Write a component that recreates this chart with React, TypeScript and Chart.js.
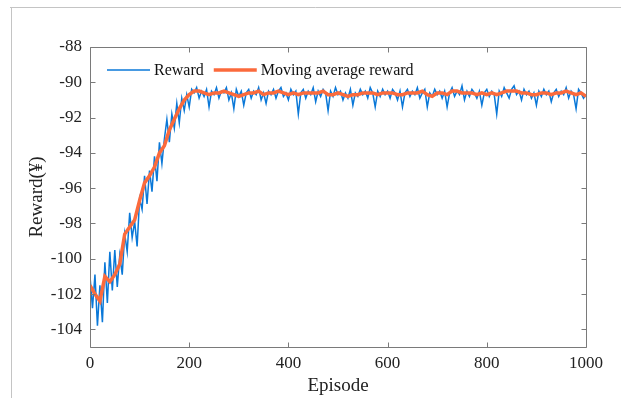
import React, { useEffect, useRef } from "react";
import { Chart, registerables } from "chart.js";

Chart.register(...registerables);

// Episode spacing of each series (x positions of the samples)
const REWARD_STEP = 5;
const AVG_STEP = 10;

// Reward per episode, sampled every 5 episodes (0 ... 1000)
const rewardValues = [
  -101.0, -102.8, -100.9, -103.8, -101.5, -103.6, -100.2, -102.5, -99.6, -101.8,
  -99.5, -101.6, -99.8, -100.9, -98.6, -99.6, -97.4, -98.8, -97.9, -99.3,
  -96.6,
  -97.2, -95.3, -96.9, -95.0, -96.2, -94.2, -95.6, -93.4, -94.6, -93.2,
  -92.1, -93.4, -91.8, -92.6, -91.2, -92.3, -90.9, -91.6, -90.7, -91.4,
  -90.4, -90.6, -90.3, -90.9,
  -90.5, -90.8, -90.4, -91.4, -90.5, -90.7, -90.3, -90.9, -90.5, -90.6,
  -90.3, -91.0, -90.6, -91.5, -90.4, -90.8, -90.5, -91.3, -90.6, -90.4,
  -90.9, -90.5, -90.7, -90.3, -91.0, -90.6, -91.2, -90.5, -90.7, -90.4,
  -90.9, -90.5, -90.3, -90.8, -90.6, -91.0, -90.4, -90.7, -90.5, -91.8,
  -90.6, -90.4, -90.9, -90.5, -90.7, -90.3, -91.1, -90.5, -90.8, -90.4,
  -90.6, -91.6, -90.5, -90.8, -90.3, -90.7, -90.5, -91.0, -90.6, -90.9,
  -90.4, -91.3, -90.6, -90.8, -90.4, -90.7, -90.5, -90.9, -90.3, -90.6,
  -91.4, -90.5, -90.8, -90.4, -90.7, -90.5, -90.9, -90.4, -90.6, -91.0,
  -90.5, -91.4, -90.6, -90.4, -90.8, -90.5, -90.7, -90.3, -90.9, -90.6,
  -90.4, -91.4, -90.6, -90.8, -90.4, -90.7, -90.5, -90.9, -90.5, -91.4,
  -90.6, -90.3, -90.8, -90.5, -90.7, -90.2, -91.0, -90.5, -90.8, -90.4,
  -90.6, -90.9, -90.5, -91.3, -90.6, -90.4, -90.8, -90.5, -90.7, -91.8,
  -90.5, -90.8, -90.3, -90.6, -90.9, -90.4, -90.2, -90.7, -90.5, -91.0,
  -90.4, -90.7, -90.5, -90.9, -90.6, -91.3, -90.5, -90.8, -90.4, -90.7,
  -90.5, -91.1, -90.6, -90.4, -90.8, -90.5, -90.7, -90.3, -90.9, -90.5,
  -90.7, -91.5, -90.4, -90.6, -90.9, -90.7,
];

// Moving average reward, sampled every 10 episodes (0 ... 1000)
const movingAverageValues = [
  -101.5, -102.0, -102.4, -101.0, -101.3, -100.9, -100.3, -98.6, -98.2, -97.8,
  -96.7, -95.7, -95.3, -94.8, -94.0, -93.6, -92.7, -92.1, -91.5, -91.0,
  -90.7,
  -90.5, -90.5, -90.6, -90.7, -90.6, -90.6, -90.5, -90.6, -90.7, -90.8,
  -90.7, -90.6, -90.6, -90.5, -90.7, -90.6, -90.6, -90.5, -90.6, -90.7,
  -90.6, -90.7, -90.6, -90.6, -90.6, -90.6, -90.5, -90.7, -90.7, -90.6,
  -90.7, -90.8, -90.7, -90.7, -90.6, -90.6, -90.6, -90.7, -90.6, -90.6,
  -90.6, -90.7, -90.7, -90.6, -90.6, -90.6, -90.5, -90.7, -90.8, -90.6,
  -90.6, -90.7, -90.5, -90.5, -90.6, -90.6, -90.6, -90.7, -90.6, -90.7,
  -90.6, -90.7, -90.6, -90.5, -90.5, -90.5, -90.6, -90.6, -90.7, -90.7,
  -90.6, -90.6, -90.7, -90.6, -90.6, -90.5, -90.6, -90.7, -90.6, -90.8,
];

const xTickValues = [0, 200, 400, 600, 800, 1000];
const yTickValues = [-104, -102, -100, -98, -96, -94, -92, -90, -88];
const seriesNames = ["Reward", "Moving average reward"];
const xTitle = "Episode";
const yTitle = "Reward(¥)";

const BLUE = "#0a78d8";
const ORANGE = "#fb6a3c";
const FONT = "'Liberation Serif', 'Times New Roman', serif";

export default function App() {
  const ref = useRef<HTMLCanvasElement>(null);

  useEffect(() => {
    if (!ref.current) return;

    const framePlugin = {
      id: "matlabFrame",
      beforeDraw(chart: any) {
        const ctx = chart.ctx;
        ctx.save();
        ctx.fillStyle = "#ffffff";
        ctx.fillRect(0, 0, chart.width, chart.height);
        ctx.strokeStyle = "#c4c4c4";
        ctx.lineWidth = 1;
        ctx.beginPath();
        ctx.moveTo(10, 7.5);
        ctx.lineTo(chart.width, 7.5);
        ctx.moveTo(11.5, 7);
        ctx.lineTo(11.5, chart.height);
        ctx.stroke();
        ctx.restore();
      },
      afterDraw(chart: any) {
        const { ctx, chartArea } = chart;
        const { left, right, top, bottom } = chartArea;
        const xs = chart.scales.x;
        const ys = chart.scales.y;
        ctx.save();
        ctx.strokeStyle = "#7a7a7a";
        ctx.lineWidth = 1;
        const L = Math.round(left) + 0.5;
        const R = Math.round(right) + 0.5;
        const T = Math.round(top) + 0.5;
        const B = Math.round(bottom) + 0.5;
        ctx.beginPath();
        ctx.rect(L, T, R - L, B - T);
        const t = 5;
        for (const v of xTickValues) {
          const px = Math.round(xs.getPixelForValue(v)) + 0.5;
          ctx.moveTo(px, B);
          ctx.lineTo(px, B - t);
          ctx.moveTo(px, T);
          ctx.lineTo(px, T + t);
        }
        for (const v of yTickValues) {
          const py = Math.round(ys.getPixelForValue(v)) + 0.5;
          ctx.moveTo(L, py);
          ctx.lineTo(L + t, py);
          ctx.moveTo(R, py);
          ctx.lineTo(R - t, py);
        }
        ctx.stroke();

        // legend inside the plot area
        const ly = top + 23;
        ctx.font = `16px ${FONT}`;
        ctx.textBaseline = "middle";
        ctx.fillStyle = "#111";
        let x0 = left + 17;
        const colors = [BLUE, ORANGE];
        const widths = [1.5, 3.5];
        seriesNames.forEach((name, i) => {
          ctx.strokeStyle = colors[i];
          ctx.lineWidth = widths[i];
          ctx.beginPath();
          ctx.moveTo(x0, ly);
          ctx.lineTo(x0 + 43, ly);
          ctx.stroke();
          ctx.fillText(name, x0 + 47, ly + 1);
          x0 += 47 + ctx.measureText(name).width + 10;
        });
        ctx.restore();
      },
    };

    const chart = new Chart(ref.current, {
      type: "line",
      data: {
        datasets: [
          {
            label: seriesNames[0],
            data: rewardValues.map((v, i) => ({ x: i * REWARD_STEP, y: v })),
            borderColor: BLUE,
            backgroundColor: BLUE,
            borderWidth: 1.5,
            pointRadius: 0,
            tension: 0,
            order: 1,
          },
          {
            label: seriesNames[1],
            data: movingAverageValues.map((v, i) => ({ x: i * AVG_STEP, y: v })),
            borderColor: ORANGE,
            backgroundColor: ORANGE,
            borderWidth: 3.5,
            pointRadius: 0,
            tension: 0,
            order: 0,
          },
        ],
      },
      options: {
        responsive: false,
        animation: false,
        layout: { padding: { left: 0, top: 47, right: 35, bottom: 0 } },
        plugins: {
          legend: { display: false },
          tooltip: { enabled: false },
        },
        scales: {
          x: {
            type: "linear",
            min: 0,
            max: 1000,
            afterBuildTicks: (s: any) => {
              s.ticks = xTickValues.map((v) => ({ value: v }));
            },
            afterFit: (s: any) => {
              s.height = 51;
            },
            grid: { display: false, drawTicks: false },
            border: { display: false },
            ticks: {
              padding: 6,
              color: "#222",
              maxRotation: 0,
              font: { family: FONT, size: 17 },
              callback: (v: any) => String(v),
            },
            title: {
              display: true,
              text: xTitle,
              color: "#222",
              font: { family: FONT, size: 19 },
              padding: { top: 0, bottom: 1 },
            },
          },
          y: {
            type: "linear",
            min: -105,
            max: -88,
            afterBuildTicks: (s: any) => {
              s.ticks = yTickValues.map((v) => ({ value: v }));
            },
            afterFit: (s: any) => {
              s.width = 90;
            },
            grid: { display: false, drawTicks: false },
            border: { display: false },
            ticks: {
              padding: 8,
              color: "#222",
              font: { family: FONT, size: 17 },
              callback: (v: any) => String(v),
            },
            title: {
              display: true,
              text: yTitle,
              color: "#222",
              font: { family: FONT, size: 19 },
              padding: { top: 26, bottom: 0 },
            },
          },
        },
      },
      plugins: [framePlugin],
    });

    return () => chart.destroy();
  }, []);

  return (
    <div style={{ position: "absolute", left: 0, top: 0, width: 621, height: 398, background: "#fff" }}>
      <canvas ref={ref} width={621} height={398} style={{ display: "block" }} />
    </div>
  );
}
